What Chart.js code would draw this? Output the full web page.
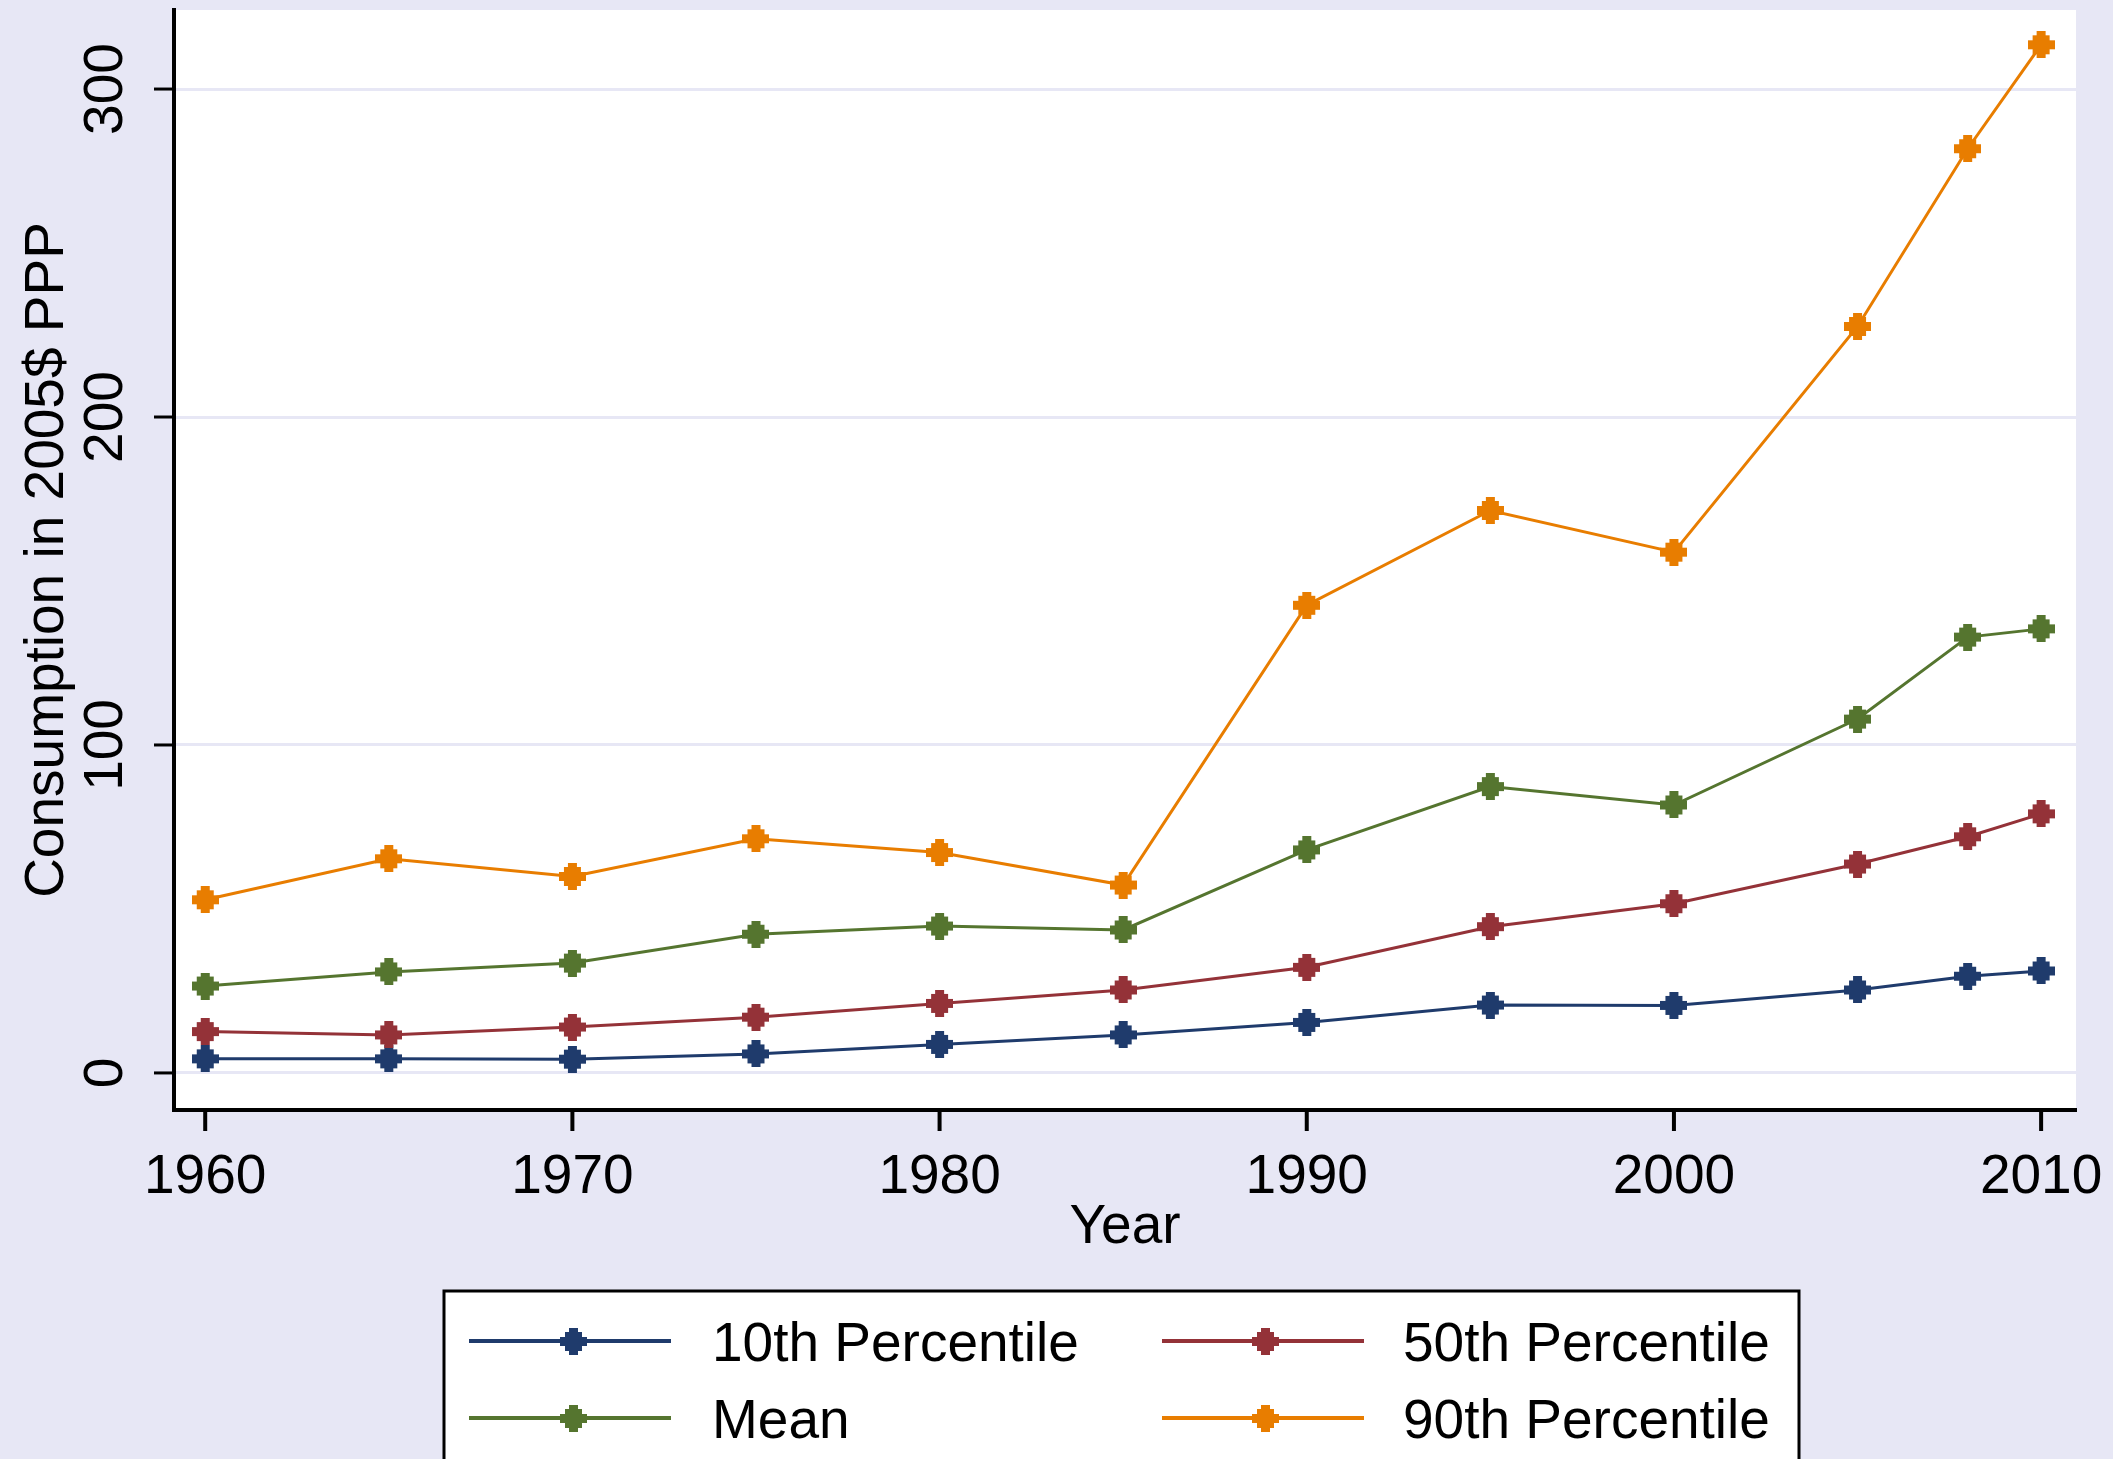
<!DOCTYPE html>
<html>
<head>
<meta charset="utf-8">
<title>Consumption percentiles</title>
<script src="https://cdn.jsdelivr.net/npm/chart.js@4.4.1/dist/chart.umd.min.js"></script>
<style>
    html, body { margin: 0; padding: 0; background: #e7e7f5; }
    canvas { display: block; }
</style>
</head>
<body>
<canvas id="chart" width="2113" height="1459"></canvas>
<script>
// data
const years = [1960, 1965, 1970, 1975, 1980, 1985, 1990, 1995, 2000, 2005, 2008, 2010]
const p10 = [4.3, 4.3, 4.2, 5.8, 8.7, 11.6, 15.4, 20.7, 20.6, 25.3, 29.5, 31.1]
const p50 = [12.6, 11.6, 14.0, 17.0, 21.2, 25.3, 32.2, 44.6, 51.6, 63.7, 72.0, 79.0]
const meanVals = [26.5, 30.8, 33.5, 42.3, 44.8, 43.6, 68.0, 87.3, 81.7, 107.9, 132.9, 135.4]
const p90 = [52.8, 65.3, 59.9, 71.4, 67.2, 57.3, 142.6, 171.5, 158.8, 227.6, 281.8, 313.5]

const xTicks = [1960, 1970, 1980, 1990, 2000, 2010]
const yTicks = [0, 100, 200, 300]
const seriesNames = ["10th Percentile", "50th Percentile", "Mean", "90th Percentile"]
const seriesColors = ["#1f3b6c", "#943238", "#55752f", "#e87d00"]

const BG = "#e7e7f5"
const FONT = "55px 'Liberation Sans', Arial, sans-serif"

const toPoints = vals => vals.map((v, i) => ({ x: years[i], y: v }))

// blocky stata diamond, 27x27
function makeMarker(color){
    const c = document.createElement("canvas")
    c.width = 27
    c.height = 27
    const g = c.getContext("2d")
    g.fillStyle = color
    // [first row, row count, left col, width]
    const steps = [[0, 4, 9, 9], [4, 5, 5, 17], [9, 9, 0, 27], [18, 5, 5, 17], [23, 4, 9, 9]]
    steps.forEach(s => g.fillRect(s[2], s[0], s[3], s[1]))
    return c
}
const markers = seriesColors.map(makeMarker)

// stata-ish axes, labels and legend, drawn on top of the chart
const stataLook = {
    id: "stataLook",
    beforeDraw(chart){
        const { ctx, chartArea: a } = chart
        ctx.save()
        ctx.fillStyle = BG
        ctx.fillRect(0, 0, chart.width, chart.height)
        ctx.fillStyle = "#ffffff"
        ctx.fillRect(a.left, a.top, a.right - a.left, a.bottom - a.top)
        ctx.restore()
    },
    afterDraw(chart){
        const { ctx, chartArea: a } = chart
        const xs = chart.scales.x
        const ys = chart.scales.y
        ctx.save()
        ctx.fillStyle = "#000"
        ctx.strokeStyle = "#000"
        ctx.font = FONT

        // x ticks + labels
        ctx.lineWidth = 4
        ctx.textAlign = "center"
        ctx.textBaseline = "alphabetic"
        xTicks.forEach(t => {
            const px = xs.getPixelForValue(t)
            ctx.beginPath()
            ctx.moveTo(px, a.bottom)
            ctx.lineTo(px, a.bottom + 21)
            ctx.stroke()
            ctx.fillText(String(t), px, 1193)
        })
        ctx.fillText("Year", (a.left + a.right) / 2, 1243)

        // y ticks + rotated labels
        ctx.lineWidth = 3
        yTicks.forEach(t => {
            const py = ys.getPixelForValue(t)
            ctx.beginPath()
            ctx.moveTo(a.left - 20, py)
            ctx.lineTo(a.left, py)
            ctx.stroke()
            ctx.save()
            ctx.translate(122, py)
            ctx.rotate(-Math.PI / 2)
            ctx.fillText(String(t), 0, 0)
            ctx.restore()
        })
        ctx.save()
        ctx.translate(63, (a.top + a.bottom) / 2)
        ctx.rotate(-Math.PI / 2)
        ctx.fillText("Consumption in 2005$ PPP", 0, 0)
        ctx.restore()

        // legend box
        ctx.fillStyle = "#fff"
        ctx.fillRect(444, 1291, 1355, 200)
        ctx.lineWidth = 3
        ctx.strokeRect(444, 1291, 1355, 200)

        const cols = [{ l: 469, r: 671, m: 573, t: 712 }, { l: 1162, r: 1364, m: 1265, t: 1403 }]
        const rows = [1341, 1418]
        seriesNames.forEach((name, i) => {
            const c = cols[i % 2]
            const y = rows[Math.floor(i / 2)]
            ctx.strokeStyle = seriesColors[i]
            ctx.lineWidth = 4
            ctx.beginPath()
            ctx.moveTo(c.l, y)
            ctx.lineTo(c.r, y)
            ctx.stroke()
            ctx.drawImage(markers[i], Math.round(c.m - 13.5), Math.round(y - 13.5))
            ctx.fillStyle = "#000"
            ctx.textAlign = "left"
            ctx.fillText(name, c.t, y + 20)
        })
        ctx.restore()
    }
}

const makeSet = (i, vals) => ({
    label: seriesNames[i],
    data: toPoints(vals),
    borderColor: seriesColors[i],
    backgroundColor: seriesColors[i],
    borderWidth: 3,
    pointStyle: markers[i],
    pointRadius: 13,
    tension: 0,
})

new Chart(document.getElementById("chart"), {
    type: "line",
    data: {
        datasets: [
            makeSet(3, p90),
            makeSet(2, meanVals),
            makeSet(1, p50),
            makeSet(0, p10),
        ]
    },
    options: {
        responsive: false,
        animation: false,
        devicePixelRatio: 1,
        layout: { autoPadding: false, padding: { left: 174, right: 37, top: 10, bottom: 349 } },
        plugins: {
            legend: { display: false },
            tooltip: { enabled: false },
        },
        scales: {
            x: {
                type: "linear",
                min: 1959.15,
                max: 2010.95,
                afterBuildTicks: s => { s.ticks = xTicks.map(v => ({ value: v })) },
                ticks: { display: false },
                grid: { display: false, drawTicks: false },
                border: { display: true, color: "#000", width: 4 },
            },
            y: {
                type: "linear",
                min: -11.3,
                max: 324.1,
                afterBuildTicks: s => { s.ticks = yTicks.map(v => ({ value: v })) },
                ticks: { display: false },
                grid: { display: true, drawTicks: false, color: BG, lineWidth: 3 },
                border: { display: true, color: "#000", width: 4 },
            },
        },
    },
    plugins: [stataLook],
})
</script>
</body>
</html>
